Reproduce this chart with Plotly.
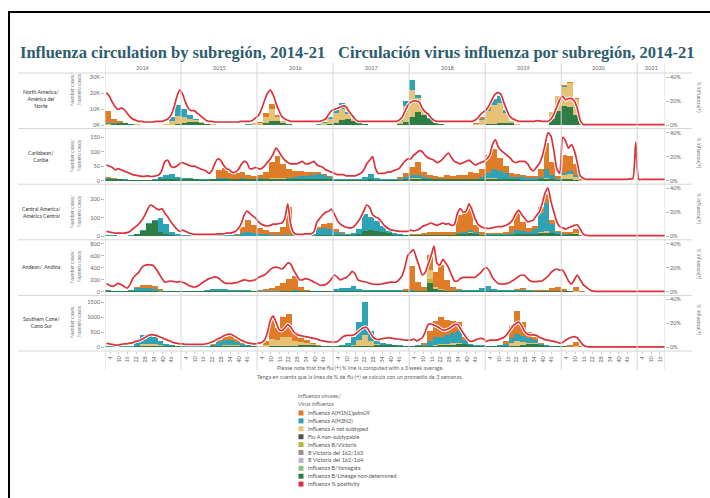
import plotly.graph_objects as go

# ---------------- DATA ----------------
years = ["2014", "2015", "2016", "2017", "2018", "2019", "2020", "2021"]
week_ticks = [4, 10, 16, 22, 28, 34, 40, 46]
week_ticks_last = [4, 10, 16]

# Bars: 4-week bins per year (13 per year, 5 in 2021). Lines: 2-week points (% positivity).
# North America (thousands of cases)
na_bnd = [[0.2, 0.5, 1, 1, 0.6, 0.3, 0.1, 0.1, 0.1, 0.1, 0.1, 0.2, 0.5],
          [1, 2, 2, 1.5, 0.8, 0.3, 0.1, 0.05, 0.05, 0.05, 0.05, 0.1, 0.2],
          [0.3, 1, 2.5, 2.5, 1.5, 0.6, 0.2, 0.1, 0.05, 0.05, 0.05, 0.1, 0.5],
          [1.5, 3, 4, 2.5, 1.2, 0.5, 0.2, 0.1, 0.05, 0.05, 0.05, 0.5, 2],
          [5, 8, 6, 3.5, 1.5, 0.6, 0.2, 0.1, 0.05, 0.05, 0.05, 0.2, 0.3],
          [0.5, 0.7, 1, 1.5, 1, 0.3, 0.1, 0.05, 0.05, 0.05, 0.1, 4, 9],
          [12, 11, 6, 0.5, 0, 0, 0, 0, 0, 0, 0, 0, 0],
          [0, 0, 0, 0, 0]]
na_anst = [[0.5, 0.3, 0.2, 0.1, 0.1, 0.05, 0.05, 0.05, 0.05, 0.1, 0.3, 2.5, 5],
           [4, 2, 1, 0.3, 0.1, 0.05, 0.05, 0.05, 0.05, 0.05, 0.1, 0.2, 0.8],
           [1, 4, 7.5, 2.5, 0.7, 0.2, 0.05, 0.05, 0.05, 0.05, 0.2, 1.2, 3.5],
           [6, 7, 3, 1, 0.3, 0.1, 0.05, 0.05, 0.05, 0.05, 0.2, 2, 10],
           [17, 9, 3, 0.5, 0.2, 0.1, 0.05, 0.05, 0.05, 0.05, 0.1, 0.5, 3],
           [8, 12, 13, 6, 1.5, 0.4, 0.1, 0.05, 0.05, 0.05, 0.2, 4, 9],
           [12, 15, 10, 1, 0, 0, 0, 0, 0, 0, 0, 0, 0],
           [0, 0, 0, 0, 0]]
na_h3 = [[0.3, 0.2, 0.1, 0.1, 0, 0, 0, 0, 0, 0, 0.1, 2, 7],
         [5, 2, 0.5, 0.1, 0, 0, 0, 0, 0, 0, 0, 0.05, 0.1],
         [0.1, 0.2, 0.3, 0.2, 0.1, 0, 0, 0, 0, 0, 0.1, 0.3, 1],
         [2, 3.5, 1, 0.2, 0.1, 0, 0, 0, 0, 0, 0.05, 0.5, 3],
         [6, 2, 0.5, 0.1, 0, 0, 0, 0, 0, 0, 0, 0.1, 0.3],
         [1, 3, 4, 2, 0.3, 0.1, 0, 0, 0, 0, 0, 0, 0],
         [0.3, 0.5, 0.3, 0, 0, 0, 0, 0, 0, 0, 0, 0, 0],
         [0, 0, 0, 0, 0]]
na_h1 = [[7.5, 3, 1, 0.3, 0.1, 0, 0, 0, 0, 0, 0, 0, 0],
         [0, 0, 0, 0, 0, 0, 0, 0, 0, 0, 0, 0, 0.3],
         [0.5, 2, 3, 1, 0.2, 0, 0, 0, 0, 0, 0, 0, 0],
         [0, 0, 0, 0, 0, 0, 0, 0, 0, 0, 0, 0, 0],
         [0, 0, 0, 0, 0, 0, 0, 0, 0, 0, 0.1, 0.3, 1.5],
         [1.5, 0.3, 0.1, 0, 0, 0, 0, 0, 0, 0, 0, 0, 0],
         [0.5, 0.5, 0.3, 0, 0, 0, 0, 0, 0, 0, 0, 0, 0],
         [0, 0, 0, 0, 0]]
na_pos = [[27, 24, 19, 15, 13, 14, 13, 10, 7, 5, 4, 3, 3, 2.5, 2.5, 2.5, 2.5, 3, 3, 3, 4, 5, 8, 14, 23, 29],
          [26, 19, 14, 12, 12, 10, 8, 6, 4, 3, 3, 2.5, 2.5, 2.5, 2.5, 2.5, 2.5, 2.5, 2.5, 2.5, 3, 3, 3, 3, 4, 6],
          [8, 13, 20, 26, 29, 25, 18, 12, 7, 5, 4, 3, 3, 3, 3, 3, 3, 3, 3, 3, 3, 3, 4, 5, 9, 12],
          [13, 14, 15, 16, 15, 11, 8, 5, 3, 3, 3, 3, 3, 3, 3, 3, 3, 3, 3, 3, 3, 3, 4, 6, 11, 16],
          [19, 20, 20, 19, 14, 11, 9, 6, 4, 3, 3, 3, 3, 3, 3, 3, 3, 3, 3, 3, 3, 3, 4, 6, 9, 11],
          [13, 17, 22, 26, 27, 25, 18, 12, 7, 5, 4, 3, 3, 3, 3, 3, 3, 3.5, 3.5, 3, 3, 3, 5, 9, 15, 21],
          [24, 21, 22, 22, 20, 14, 4, 0.5, 0.3, 0.3, 0.3, 0.3, 0.3, 0.3, 0.3, 0.3, 0.3, 0.3, 0.3, 0.3, 0.3, 0.3, 0.3, 0.3, 0.3, 0.3],
          [0.3, 0.3, 0.3, 0.3, 0.3, 0.3, 0.3, 0.3, 0.3, 0.3]]

# Caribbean
car_bnd = [[6, 6, 4, 3, 2, 2, 2, 2, 2, 4, 5, 5, 5],
           [4, 4, 4, 3, 3, 4, 5, 5, 4, 4, 4, 4, 4],
           [4, 4, 5, 5, 5, 5, 5, 5, 5, 5, 5, 4, 4],
           [3, 3, 2, 2, 2, 3, 4, 3, 3, 3, 3, 3, 4],
           [5, 5, 5, 5, 4, 4, 4, 4, 4, 4, 4, 4, 4],
           [5, 5, 5, 5, 4, 4, 3, 3, 3, 4, 5, 4, 2],
           [5, 4, 3, 0, 0, 0, 0, 0, 0, 0, 0, 0, 0],
           [0, 0, 0, 0, 0]]
car_anst = [[0, 0, 0, 0, 0, 0, 0, 0, 0, 0, 0, 0, 0],
            [0, 0, 0, 0, 0, 0, 0, 0, 0, 0, 0, 0, 0],
            [0, 0, 3, 5, 3, 0, 0, 0, 0, 0, 0, 0, 0],
            [0, 0, 0, 0, 0, 0, 0, 0, 0, 0, 0, 0, 0],
            [3, 3, 0, 0, 0, 0, 0, 0, 0, 0, 0, 0, 0],
            [3, 5, 0, 0, 0, 0, 0, 0, 0, 0, 5, 0, 0],
            [15, 20, 10, 2, 0, 0, 0, 0, 0, 0, 0, 0, 0],
            [0, 0, 0, 0, 0]]
car_h3 = [[2, 1, 0, 1, 1, 1, 1, 1, 2, 8, 15, 18, 8],
          [4, 4, 3, 3, 3, 0, 3, 3, 0, 3, 5, 0, 3],
          [4, 0, 0, 0, 0, 5, 8, 10, 12, 15, 18, 15, 8],
          [2, 2, 2, 2, 4, 10, 18, 5, 3, 3, 2, 3, 8],
          [12, 10, 6, 3, 2, 0, 2, 0, 0, 2, 3, 3, 8],
          [20, 30, 30, 20, 10, 8, 8, 6, 5, 10, 30, 15, 5],
          [8, 8, 5, 0, 0, 0, 0, 0, 0, 0, 0, 0, 0],
          [0, 0, 0, 0, 0]]
car_h1 = [[4, 3, 2, 0, 0, 0, 0, 0, 0, 0, 0, 0, 0],
          [0, 0, 0, 0, 0, 2, 30, 35, 22, 18, 22, 15, 10],
          [12, 25, 55, 75, 50, 30, 22, 20, 12, 10, 8, 5, 3],
          [0, 0, 0, 0, 0, 0, 0, 0, 0, 0, 2, 6, 15],
          [28, 45, 20, 12, 10, 10, 15, 12, 14, 15, 22, 20, 30],
          [60, 70, 45, 25, 12, 10, 10, 8, 8, 25, 90, 45, 10],
          [60, 55, 40, 5, 0, 0, 0, 0, 0, 0, 0, 0, 0],
          [0, 0, 0, 0, 0]]
car_pos = [[13, 12, 11, 9, 10, 9, 8, 7, 6, 5, 4.5, 4, 3.6, 3.5, 4, 3.5, 3.5, 4, 5, 9, 16, 17, 12, 11, 12, 14],
           [15, 14, 13, 12, 12, 11, 10, 9, 8, 6, 8, 14, 18, 17, 13, 10, 9, 7, 7, 9, 13, 16, 15, 10, 10, 11],
           [10, 10, 12, 15, 18, 22, 27, 24, 20, 17, 15, 14, 14, 14, 15, 16, 14, 14, 15, 16, 13, 12, 11, 9, 8, 7],
           [6, 5, 5, 5, 4, 4, 4, 4, 5, 6, 9, 14, 17, 20, 10, 6, 6, 6, 7, 7, 8, 9, 10, 13, 16, 18],
           [18, 21, 23, 25, 24, 21, 19, 18, 17, 15, 16, 18, 21, 23, 19, 16, 15, 14, 15, 16, 17, 15, 13, 14, 15, 16],
           [18, 21, 30, 34, 28, 25, 23, 21, 19, 16, 15, 16, 16, 16, 14, 10, 8, 11, 14, 20, 30, 40, 37, 25, 10, 6],
           [36, 33, 27, 30, 25, 15, 4, 2, 1, 1, 1, 1, 1, 1, 1, 1, 1, 1, 1, 1, 1, 1, 1, 1.5, 1.5, 32],
           [1, 1, 1, 1, 1, 1, 1, 1, 1, 1]]

# Central America
ca_bnd = [[3, 2, 2, 2, 2, 10, 30, 65, 80, 25, 10, 5, 3],
          [3, 3, 2, 2, 2, 2, 2, 2, 2, 2, 3, 3, 3],
          [3, 3, 2, 2, 2, 3, 2, 2, 2, 2, 5, 5, 5],
          [5, 5, 5, 5, 10, 30, 35, 30, 25, 15, 8, 6, 5],
          [5, 4, 5, 5, 5, 5, 5, 5, 10, 10, 15, 10, 8],
          [5, 5, 6, 5, 5, 10, 10, 10, 10, 15, 15, 15, 10],
          [8, 10, 10, 3, 0, 0, 0, 0, 0, 0, 0, 0, 0],
          [0, 0, 0, 0, 0]]
ca_anst = [[0, 0, 0, 0, 0, 0, 0, 0, 0, 0, 0, 0, 0],
           [0, 0, 0, 0, 0, 0, 0, 0, 0, 0, 0, 0, 0],
           [0, 0, 0, 0, 0, 0, 0, 0, 0, 0, 0, 0, 0],
           [0, 0, 0, 0, 0, 0, 0, 0, 0, 0, 0, 0, 0],
           [0, 0, 0, 0, 0, 0, 0, 0, 0, 0, 5, 0, 0],
           [0, 0, 0, 0, 0, 0, 0, 0, 0, 10, 15, 0, 0],
           [0, 0, 5, 0, 0, 0, 0, 0, 0, 0, 0, 0, 0],
           [0, 0, 0, 0, 0]]
ca_h3 = [[2, 2, 1, 1, 2, 2, 3, 5, 10, 75, 55, 20, 8],
         [4, 3, 2, 2, 2, 2, 2, 2, 3, 5, 15, 20, 15],
         [10, 8, 5, 5, 5, 5, 2, 1, 1, 10, 35, 40, 35],
         [20, 12, 8, 10, 30, 90, 70, 50, 30, 15, 7, 4, 3],
         [3, 0, 0, 0, 0, 0, 0, 0, 5, 10, 15, 10, 0],
         [5, 5, 6, 5, 10, 25, 20, 15, 30, 100, 150, 50, 10],
         [5, 0, 0, 0, 0, 0, 0, 0, 0, 0, 0, 0, 0],
         [0, 0, 0, 0, 0]]
ca_h1 = [[0, 0, 0, 0, 0, 0, 0, 0, 0, 0, 0, 0, 0],
         [0, 0, 0, 0, 0, 0, 0, 0, 0, 5, 30, 65, 45],
         [30, 25, 15, 15, 40, 150, 10, 0, 0, 0, 10, 20, 30],
         [15, 5, 0, 0, 0, 0, 0, 0, 0, 0, 0, 0, 0],
         [2, 8, 12, 15, 15, 15, 15, 20, 100, 110, 130, 40, 15],
         [5, 5, 6, 15, 40, 90, 45, 20, 15, 30, 50, 20, 10],
         [10, 15, 25, 5, 0, 0, 0, 0, 0, 0, 0, 0, 0],
         [0, 0, 0, 0, 0]]
ca_pos = [[4, 3.5, 3, 2.5, 2.5, 2.5, 2.5, 3, 4, 6, 8, 10, 13, 17, 22, 26, 25, 23, 22, 23, 19, 16, 12, 9, 6, 4],
          [5, 4, 3, 2, 1.5, 1.5, 1.5, 1.5, 1.5, 1.5, 1.5, 1.5, 2, 2, 2, 2.5, 2.5, 3, 4, 6, 10, 17, 21, 19, 17, 15],
          [12, 10, 9, 8.5, 9, 10, 10, 10.5, 11, 15, 27, 10, 3, 1.5, 1.5, 1.5, 2, 2, 2, 4, 12, 15, 18, 20, 21, 22.5],
          [18, 13, 10, 8.5, 7.5, 7, 7, 9, 12, 16, 21, 26, 24, 18, 16, 15, 12, 9, 7, 5.5, 5, 4.5, 4, 4, 4, 4],
          [5, 4.5, 5, 6, 8, 9, 10, 11, 10, 9, 10, 11, 10, 10.5, 9, 10, 19, 23, 20, 21, 27, 22, 15, 10, 8, 7],
          [6.5, 6.5, 7, 7.5, 8, 8, 8.5, 9.5, 11, 14, 19, 21.6, 18, 15, 12, 12.5, 13.6, 17, 20, 27, 36, 40, 29, 20, 12, 8],
          [7, 6, 7, 8, 9, 9.5, 6, 2, 0.8, 0.5, 0.5, 0.5, 0.5, 0.5, 0.5, 0.5, 0.5, 0.5, 0.5, 0.5, 0.5, 0.5, 0.5, 0.5, 0.5, 0.5],
          [0.5, 0.5, 0.5, 0.5, 0.5, 0.5, 0.5, 0.5, 0.5, 0.5]]

# Andean
ad_bnd = [[10, 8, 8, 6, 10, 10, 10, 10, 10, 5, 8, 6, 6],
          [6, 6, 6, 8, 10, 10, 10, 10, 10, 10, 10, 8, 8],
          [5, 5, 5, 5, 10, 10, 15, 10, 10, 10, 10, 10, 10],
          [10, 10, 10, 10, 10, 10, 10, 10, 10, 10, 10, 10, 15],
          [10, 20, 20, 150, 50, 30, 20, 15, 15, 15, 15, 10, 10],
          [15, 10, 10, 10, 10, 10, 10, 10, 10, 10, 10, 10, 10],
          [10, 10, 0, 5, 0, 0, 0, 0, 0, 0, 0, 0, 0],
          [0, 0, 0, 0, 0]]
ad_bvic = [[0, 0, 0, 0, 0, 0, 0, 0, 0, 0, 0, 0, 0],
           [0, 0, 0, 0, 0, 0, 0, 0, 0, 0, 0, 0, 0],
           [0, 0, 0, 0, 0, 0, 0, 0, 0, 0, 0, 0, 0],
           [0, 0, 0, 0, 0, 0, 0, 0, 0, 0, 0, 0, 0],
           [0, 0, 0, 60, 0, 0, 0, 0, 0, 0, 0, 0, 0],
           [0, 0, 0, 0, 0, 0, 0, 0, 0, 0, 0, 0, 0],
           [0, 0, 0, 0, 0, 0, 0, 0, 0, 0, 0, 0, 0],
           [0, 0, 0, 0, 0]]
ad_anst = [[0, 0, 0, 0, 0, 0, 0, 0, 0, 0, 0, 0, 0],
           [0, 0, 0, 0, 0, 0, 0, 0, 0, 0, 0, 0, 0],
           [0, 0, 0, 0, 0, 0, 0, 0, 0, 0, 0, 0, 0],
           [0, 0, 0, 0, 0, 0, 0, 0, 0, 0, 0, 0, 0],
           [0, 0, 0, 150, 30, 20, 0, 0, 0, 0, 0, 0, 0],
           [0, 0, 0, 0, 0, 0, 0, 0, 0, 0, 0, 0, 0],
           [0, 0, 10, 0, 0, 0, 0, 0, 0, 0, 0, 0, 0],
           [0, 0, 0, 0, 0]]
ad_h3 = [[15, 12, 10, 9, 20, 50, 60, 50, 30, 15, 12, 9, 9],
         [9, 9, 9, 12, 15, 30, 35, 35, 25, 15, 15, 14, 12],
         [10, 10, 10, 10, 10, 10, 10, 5, 10, 10, 10, 10, 10],
         [40, 50, 60, 80, 30, 20, 15, 15, 15, 15, 15, 20, 0],
         [20, 0, 0, 0, 0, 0, 0, 0, 10, 10, 20, 20, 60],
         [90, 40, 20, 15, 20, 15, 20, 15, 10, 10, 0, 0, 0],
         [0, 0, 0, 0, 0, 0, 0, 0, 0, 0, 0, 0, 0],
         [0, 0, 0, 0, 0]]
ad_h1 = [[0, 0, 0, 0, 0, 20, 50, 60, 50, 20, 0, 0, 0],
         [0, 0, 0, 0, 0, 0, 0, 0, 0, 0, 0, 0, 0],
         [10, 25, 45, 80, 130, 200, 240, 60, 5, 0, 0, 0, 0],
         [0, 0, 0, 0, 0, 0, 0, 0, 0, 0, 0, 0, 40],
         [400, 150, 60, 250, 250, 400, 180, 60, 15, 10, 0, 0, 0],
         [0, 0, 0, 0, 0, 20, 30, 10, 5, 10, 20, 50, 70],
         [30, 10, 70, 10, 0, 0, 0, 0, 0, 0, 0, 0, 0],
         [0, 0, 0, 0, 0]]
ad_pos = [[7, 5.5, 4.5, 5.5, 7, 6, 4.5, 3, 6, 11, 14, 16, 20, 22, 22.5, 22.5, 22, 19, 15, 11, 8, 8.5, 9, 8.5, 8, 8.5],
          [8, 7, 5.5, 4.5, 4, 4.5, 6, 8, 9.5, 11, 11.5, 12.5, 12, 10, 8, 7, 7, 7, 7.5, 8, 9, 10, 9.5, 9, 9.5, 10],
          [12, 13, 14, 16, 18.5, 20, 20.5, 20, 19, 21, 24, 23, 18, 14, 10, 10, 11, 10.5, 9.5, 8, 7, 5.5, 5.5, 6, 8, 11],
          [14, 12, 10, 11, 12, 14, 17, 15, 10, 9, 8.5, 8, 7, 6.5, 6.3, 6.2, 6.5, 7, 7.5, 8, 8, 8, 10, 13, 20, 30],
          [33, 35, 28, 21, 14, 16, 23, 30, 38, 24, 22, 27, 24, 20, 14, 9, 9, 11, 12, 12, 12, 12, 12, 14, 16, 19],
          [20, 17, 12, 9, 7, 6.5, 6.5, 7, 8, 9.5, 11, 13, 14, 13.5, 11, 9, 8.5, 8.5, 9, 9, 11, 13, 16, 18, 19, 18],
          [18, 14, 9, 6.5, 10, 14, 10, 6, 4, 2, 0.8, 0.4, 0.4, 0.4, 0.4, 0.4, 0.4, 0.4, 0.4, 0.4, 0.4, 0.4, 0.4, 0.4, 0.4, 0.4],
          [0.4, 0.4, 0.4, 0.4, 0.4, 0.4, 0.4, 0.4, 0.4, 0.4]]

# Southern Cone
sc_bnd = [[20, 20, 20, 25, 20, 30, 50, 60, 60, 60, 50, 40, 30],
          [20, 20, 20, 20, 20, 30, 40, 50, 60, 60, 50, 40, 30],
          [20, 20, 30, 40, 50, 60, 60, 70, 80, 70, 60, 40, 30],
          [30, 30, 40, 40, 50, 60, 60, 80, 90, 90, 70, 50, 40],
          [40, 40, 30, 50, 60, 70, 80, 90, 100, 100, 80, 60, 50],
          [40, 40, 40, 30, 50, 60, 80, 100, 100, 80, 60, 40, 30],
          [30, 20, 20, 0, 0, 0, 0, 0, 0, 0, 0, 0, 0],
          [0, 0, 0, 0, 0]]
sc_anst = [[0, 0, 0, 0, 0, 20, 50, 60, 50, 30, 0, 0, 0],
           [0, 0, 0, 0, 0, 0, 20, 30, 30, 20, 0, 0, 0],
           [10, 50, 250, 200, 300, 300, 150, 100, 60, 30, 0, 0, 0],
           [0, 0, 0, 50, 200, 350, 150, 40, 0, 0, 0, 0, 0],
           [0, 0, 0, 0, 30, 30, 40, 40, 50, 0, 0, 0, 0],
           [0, 0, 0, 30, 100, 150, 100, 60, 40, 0, 0, 0, 0],
           [0, 0, 20, 0, 0, 0, 0, 0, 0, 0, 0, 0, 0],
           [0, 0, 0, 0, 0]]
sc_h3 = [[20, 20, 20, 20, 40, 150, 300, 330, 250, 120, 60, 30, 20],
         [20, 20, 15, 15, 20, 60, 120, 160, 150, 100, 50, 30, 20],
         [20, 0, 0, 0, 0, 0, 0, 0, 0, 0, 0, 20, 30],
         [30, 60, 120, 250, 600, 1100, 350, 100, 40, 30, 20, 20, 20],
         [20, 30, 40, 150, 250, 250, 280, 350, 400, 150, 30, 20, 20],
         [20, 20, 30, 50, 150, 250, 200, 150, 100, 40, 20, 20, 20],
         [20, 0, 0, 0, 0, 0, 0, 0, 0, 0, 0, 0, 0],
         [0, 0, 0, 0, 0]]
sc_h1 = [[0, 0, 0, 0, 0, 0, 0, 0, 0, 0, 0, 0, 0],
         [0, 0, 0, 0, 0, 30, 60, 110, 170, 90, 30, 0, 0],
         [10, 150, 700, 400, 650, 750, 300, 150, 100, 60, 30, 0, 0],
         [0, 0, 0, 0, 0, 0, 0, 0, 0, 0, 0, 0, 0],
         [0, 0, 80, 350, 550, 650, 500, 400, 300, 80, 0, 0, 0],
         [0, 0, 0, 100, 400, 750, 450, 200, 100, 40, 0, 0, 0],
         [0, 60, 150, 40, 0, 0, 0, 0, 0, 0, 0, 0, 0],
         [0, 0, 0, 0, 0]]
sc_pos = [[3.3, 3, 2.5, 2, 2, 2.5, 3, 3, 3.5, 4, 5, 5.5, 6.5, 8, 9.5, 10.5, 10.5, 10, 9, 8, 7, 6, 5, 4, 3.5, 3],
          [3, 2.5, 2.5, 2.5, 2.5, 2.5, 2.5, 2.5, 3, 3.5, 4.5, 5.5, 7, 8, 9.5, 10.5, 11, 10.5, 9, 7.5, 6, 5, 4, 3.5, 3, 3],
          [3.5, 4, 6, 12, 22, 26, 21, 15, 14, 16, 19, 17, 13, 11, 10, 9.5, 9, 8.5, 8, 7.5, 7, 6, 5.5, 5, 4.5, 4.5],
          [4.5, 5, 7, 9, 10, 10, 10, 11, 13, 15, 16.5, 16.5, 13, 9, 7, 6.5, 7, 7.5, 8, 8, 7.5, 7, 7, 6.5, 6, 6],
          [6, 7, 5.5, 6.5, 8, 13, 19, 19.5, 18.5, 17.5, 16, 14.5, 14.5, 15.5, 17, 19, 19, 16, 12, 8.5, 5.5, 5, 6, 7, 7.5, 7],
          [5, 6, 6, 6, 6.5, 7.5, 8.5, 11, 14.5, 18, 20, 21, 18, 13.5, 11, 10.5, 10.5, 10, 8.5, 7.5, 6.5, 6, 5.5, 5, 4.5, 3.5],
          [4, 6, 7.5, 8.5, 9, 8, 5, 2, 0.8, 0.4, 0.4, 0.4, 0.4, 0.4, 0.4, 0.4, 0.4, 0.4, 0.4, 0.4, 0.4, 0.4, 0.4, 0.4, 0.4, 0.4],
          [0.4, 0.4, 0.4, 0.4, 0.4, 0.4, 0.4, 0.4, 0.4, 0.4]]

legend_labels = ["Influenza A(H1N1)pdm09", "Influenza A(H3N2)", "Influenza A not subtyped",
                 "Flu A non-subtypable", "Influenza B/Victoria", "B Victoria del 162/163",
                 "B Victoria del 162/164", "Influenza B/Yamagata",
                 "Influenza B/Lineage non-determined", "Influenza % positivity"]
legend_colors = ["#e07b28", "#2fa3b6", "#e6c276", "#4e5257", "#b3b83a", "#9c9189",
                 "#bcb3d3", "#8fc47d", "#2f7d46", "#d9323b"]
C = dict(h1=legend_colors[0], h3=legend_colors[1], anst=legend_colors[2],
         bvic=legend_colors[4], bnd=legend_colors[8], pos=legend_colors[9])

regions = [
    dict(label="North America/<br>América del<br>Norte", ly=99, ty=89, M=30, tv=[0, 10, 20, 30],
         tt=["0K", "10K", "20K", "30K"],
         bars=dict(bnd=na_bnd, anst=na_anst, h3=na_h3, h1=na_h1), pos=na_pos),
    dict(label="Caribbean/<br>Caribe", ly=156, ty=155, M=167, tv=[0, 50, 100, 150], tt=["0", "50", "100", "150"],
         bars=dict(bnd=car_bnd, anst=car_anst, h3=car_h3, h1=car_h1), pos=car_pos),
    dict(label="Central America/<br>América Central", ly=212, ty=211, M=259, tv=[0, 100, 200],
         tt=["0", "100", "200"],
         bars=dict(bnd=ca_bnd, anst=ca_anst, h3=ca_h3, h1=ca_h1), pos=ca_pos),
    dict(label="Andean/  Andina", ly=267, ty=266, M=800, tv=[0, 200, 400, 600, 800],
         tt=["0", "200", "400", "600", "800"],
         bars=dict(bnd=ad_bnd, bvic=ad_bvic, anst=ad_anst, h3=ad_h3, h1=ad_h1), pos=ad_pos),
    dict(label="Southern Cone/<br>Cono Sur", ly=322, ty=321, M=1600, tv=[0, 500, 1000, 1500],
         tt=["0", "500", "1000", "1500"],
         bars=dict(bnd=sc_bnd, anst=sc_anst, h3=sc_h3, h1=sc_h1), pos=sc_pos),
]

# ---------------- LAYOUT GEOMETRY ----------------
W, H = 710, 498
ML, MR, MT, MB = 105, 45, 73, 147
PW, PH = W - ML - MR, H - MT - MB
XMAX = 52 * 7 + 19


def fx(p):
    return (p - ML) / PW


def fy(p):
    return (H - MB - p) / PH


FONT = "Lato, 'Open Sans', sans-serif"
TXT = "#555555"
GRID = "#d6d6d6"

fig = go.Figure()
stack_order = ["bnd", "bvic", "anst", "h3", "h1"]

for i, reg in enumerate(regions):
    ya = "y" if i == 0 else f"y{i + 1}"
    yr = f"y{i + 6}"
    for key in stack_order:
        if key not in reg["bars"]:
            continue
        xs, ys = [], []
        for k, row in enumerate(reg["bars"][key]):
            for b, v in enumerate(row):
                xs.append(52 * k + 4 * b + 2)
                ys.append(v)
        fig.add_trace(go.Bar(x=xs, y=ys, width=4, marker=dict(color=C[key], line=dict(width=0)),
                             xaxis="x", yaxis=ya, showlegend=False, hoverinfo="skip"))
    xs, ys = [], []
    for k, row in enumerate(reg["pos"]):
        for j, v in enumerate(row):
            xs.append(52 * k + 2 * j + 1)
            ys.append(v)
    fig.add_trace(go.Scatter(x=xs, y=ys, mode="lines", line=dict(color="white", width=3.6, shape="spline", smoothing=0.6),
                             xaxis="x", yaxis=yr, showlegend=False, hoverinfo="skip"))
    fig.add_trace(go.Scatter(x=xs, y=ys, mode="lines", line=dict(color=C["pos"], width=1.7, shape="spline", smoothing=0.6),
                             xaxis="x", yaxis=yr, showlegend=False, hoverinfo="skip"))

# x ticks
tickvals, ticktext = [], []
for k in range(8):
    wt = week_ticks if k < 7 else week_ticks_last
    for w in wt:
        tickvals.append(52 * k + w - 0.5)
        ticktext.append(str(w))

layout = dict(
    width=W, height=H, margin=dict(l=ML, r=MR, t=MT, b=MB, pad=0),
    paper_bgcolor="white", plot_bgcolor="white",
    font=dict(family=FONT, size=6, color=TXT),
    barmode="stack", bargap=0, showlegend=False,
    xaxis=dict(range=[0, XMAX], anchor="y5", tickvals=tickvals, ticktext=ticktext, tickangle=-90,
               tickfont=dict(size=5.5, color="#666"), showgrid=False, zeroline=False, showline=False,
               ticks="outside", ticklen=2, tickcolor="#cccccc", fixedrange=True),
)
for i, reg in enumerate(regions):
    M = reg["M"]
    key = "yaxis" if i == 0 else f"yaxis{i + 1}"
    layout[key] = dict(domain=[(4 - i) / 5, (5 - i) / 5], range=[-0.075 * M, 1.0833 * M], anchor="x",
                       tickvals=reg["tv"], ticktext=reg["tt"], showgrid=False, zeroline=False, showline=False,
                       ticks="outside", ticklen=3, tickcolor="#bbbbbb",
                       tickfont=dict(size=5.5, color="#666"), fixedrange=True)
    layout[f"yaxis{i + 6}"] = dict(overlaying="y" if i == 0 else f"y{i + 1}", side="right", anchor="x",
                                   range=[-3, 43.33], tickvals=[0, 20, 40], ticktext=["0%", "20%", "40%"],
                                   showgrid=False, zeroline=False, showline=False,
                                   ticks="outside", ticklen=3, tickcolor="#bbbbbb",
                                   tickfont=dict(size=5.5, color="#666"), fixedrange=True)

shapes = []
annotations = []

# frame
shapes.append(dict(type="rect", xref="paper", yref="paper", x0=fx(9), x1=fx(712), y0=fy(12), y1=fy(502),
                   line=dict(color="black", width=2), fillcolor="rgba(0,0,0,0)", layer="above"))
# horizontal separators (header line + panel borders)
for i in range(6):
    yy = MT + i * PH / 5
    shapes.append(dict(type="line", xref="paper", yref="paper", x0=fx(18), x1=fx(692), y0=fy(yy), y1=fy(yy),
                       line=dict(color=GRID, width=1), layer="below"))
# vertical year lines
for k in range(8):
    shapes.append(dict(type="line", xref="x", yref="paper", x0=52 * k, x1=52 * k, y0=fy(370), y1=fy(63),
                       line=dict(color=GRID, width=1), layer="above"))
shapes.append(dict(type="line", xref="x", yref="paper", x0=XMAX, x1=XMAX, y0=fy(370), y1=fy(63),
                   line=dict(color=GRID, width=1), layer="above"))

# title
annotations.append(dict(text="<b>Influenza circulation by subregión, 2014-21</b>", xref="paper", yref="paper",
                        x=fx(18), y=fy(52), xanchor="left", yanchor="middle", showarrow=False,
                        font=dict(family="'Liberation Serif', 'DejaVu Serif', serif", size=16.5, color="#2d5d6d")))
annotations.append(dict(text="<b>Circulación virus influenza por subregión, 2014-21</b>", xref="paper", yref="paper",
                        x=fx(697), y=fy(52), xanchor="right", yanchor="middle", showarrow=False,
                        font=dict(family="'Liberation Serif', 'DejaVu Serif', serif", size=16.5, color="#2d5d6d")))
# year header
for k, yname in enumerate(years):
    xc = 52 * k + 26 if k < 7 else (52 * 7 + XMAX) / 2
    annotations.append(dict(text=yname, xref="x", yref="paper", x=xc, y=fy(68), xanchor="center", yanchor="middle",
                            showarrow=False, font=dict(size=5.5, color="#666")))
# row labels and axis titles
for i, reg in enumerate(regions):
    yc = MT + (i + 0.5) * PH / 5
    annotations.append(dict(text=reg["label"], xref="paper", yref="paper", x=fx(41), y=fy(reg["ly"]),
                            xanchor="center", yanchor="middle", showarrow=False,
                            font=dict(size=5.2, color="#333")))
    annotations.append(dict(text="Number cases/<br>Numero casos", xref="paper", yref="paper", x=fx(75),
                            y=fy(reg["ty"]), xanchor="center", yanchor="middle", textangle=-90, showarrow=False,
                            font=dict(size=5, color="#777")))
    annotations.append(dict(text="% influenza(+)", xref="paper", yref="paper", x=fx(699), y=fy(yc - 4),
                            xanchor="center", yanchor="middle", textangle=90, showarrow=False,
                            font=dict(size=5, color="#777")))
# notes
annotations.append(dict(text="Please note that the flu (+) % line is computed with a 3 week average.",
                        xref="paper", yref="paper", x=fx(360), y=fy(368), xanchor="center", yanchor="middle",
                        showarrow=False, font=dict(size=5.5, color="#666")))
annotations.append(dict(text="Tenga en cuenta que la línea de % de flu (+) se calcula con un promedio de 3 semanas.",
                        xref="paper", yref="paper", x=fx(360), y=fy(377), xanchor="center", yanchor="middle",
                        showarrow=False, font=dict(size=5.5, color="#666")))
# legend (drawn manually)
annotations.append(dict(text="Influenza viruses/", xref="paper", yref="paper", x=fx(296), y=fy(396),
                        xanchor="left", yanchor="middle", showarrow=False, font=dict(size=5.5, color="#666")))
annotations.append(dict(text="Virus influenza", xref="paper", yref="paper", x=fx(296), y=fy(404),
                        xanchor="left", yanchor="middle", showarrow=False, font=dict(size=5.5, color="#666")))
for n, (lab, col) in enumerate(zip(legend_labels, legend_colors)):
    yy = 413 + 7.9 * n
    shapes.append(dict(type="rect", xref="paper", yref="paper", x0=fx(298.5), x1=fx(303.5), y0=fy(yy + 2.5),
                       y1=fy(yy - 2.5), line=dict(width=0), fillcolor=col))
    annotations.append(dict(text=lab, xref="paper", yref="paper", x=fx(306), y=fy(yy), xanchor="left",
                            yanchor="middle", showarrow=False, font=dict(size=5.5, color="#555")))

layout["shapes"] = shapes
layout["annotations"] = annotations
fig.update_layout(**layout)

fig.write_html("out.html", config={"displayModeBar": False, "staticPlot": True},
               post_script="document.body.style.margin='0px';document.body.style.overflow='hidden';")
